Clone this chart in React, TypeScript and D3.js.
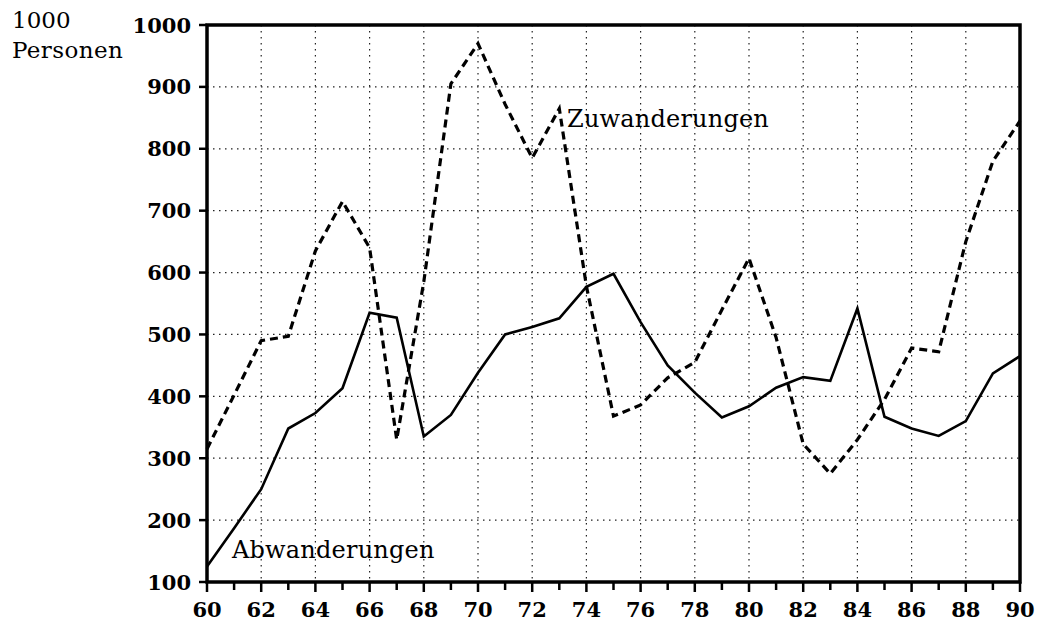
import * as d3 from "d3";

const years = d3.range(60, 91);
const zuwanderungen = [
  315, 402, 490, 497, 635, 715, 640, 330, 585, 905, 970, 872, 785, 865, 578, 368,
  386, 430, 455, 540, 623, 495, 323, 275, 330, 395, 478, 472, 650, 780, 845,
];
const abwanderungen = [
  125, 187, 250, 348, 373, 413, 535, 527, 335, 370, 438, 500, 512, 526, 577, 598,
  520, 450, 406, 366, 384, 414, 431, 425, 542, 367, 348, 336, 360, 437, 465,
];
const xTicks = d3.range(60, 91, 2);
const yTicks = d3.range(100, 1001, 100);

const W = 1042;
const H = 628;
const serif = "'DejaVu Serif', serif";

const x = d3.scaleLinear().domain([60, 90]).range([207, 1020]);
const y = d3.scaleLinear().domain([100, 1000]).range([582, 25]);

const line = d3
  .line<number>()
  .x((_, i) => x(years[i]))
  .y((d) => y(d));

export default function App() {
  return (
    <svg
      width={W}
      height={H}
      style={{ position: "absolute", left: 0, top: 0, background: "#fff" }}
    >
      {/* dotted grid */}
      <g stroke="#222" strokeWidth={1.2} strokeDasharray="1.5 4.5">
        {xTicks.slice(1, -1).map((t) => (
          <line key={"gx" + t} x1={x(t)} x2={x(t)} y1={y(1000)} y2={y(100)} />
        ))}
        {yTicks.slice(1, -1).map((t) => (
          <line key={"gy" + t} x1={x(60)} x2={x(90)} y1={y(t)} y2={y(t)} />
        ))}
      </g>

      {/* series */}
      <path
        d={line(zuwanderungen) || ""}
        fill="none"
        stroke="#000"
        strokeWidth={3.2}
        strokeDasharray="8 5"
      />
      <path d={line(abwanderungen) || ""} fill="none" stroke="#000" strokeWidth={2.6} />

      {/* frame */}
      <rect
        x={x(60)}
        y={y(1000)}
        width={x(90) - x(60)}
        height={y(100) - y(1000)}
        fill="none"
        stroke="#000"
        strokeWidth={3.5}
      />

      {/* ticks */}
      <g stroke="#000" strokeWidth={2.5}>
        {years.map((t) => (
          <line
            key={"tx" + t}
            x1={x(t)}
            x2={x(t)}
            y1={y(100)}
            y2={y(100) + (t % 2 === 0 ? 10 : 8)}
          />
        ))}
        {yTicks.map((t) => (
          <line key={"ty" + t} x1={x(60) - 8} x2={x(60)} y1={y(t)} y2={y(t)} />
        ))}
      </g>

      <g fontFamily={serif} fontWeight="bold" fontSize={21} fill="#000">
        {xTicks.map((t) => (
          <text key={"lx" + t} x={x(t)} y={617} textAnchor="middle">
            {t}
          </text>
        ))}
        {yTicks.map((t) => (
          <text key={"ly" + t} x={191} y={y(t) + 7.5} textAnchor="end">
            {t}
          </text>
        ))}
      </g>

      <g fontFamily={serif} fontSize={23} fill="#000">
        <text x={12} y={28}>1000</text>
        <text x={12} y={58} letterSpacing={0.4}>Personen</text>
      </g>
      <g fontFamily={serif} fontSize={24} fill="#000">
        <text x={232} y={558} letterSpacing={0.2}>Abwanderungen</text>
        <text x={567} y={127} letterSpacing={0.2}>Zuwanderungen</text>
      </g>
    </svg>
  );
}
